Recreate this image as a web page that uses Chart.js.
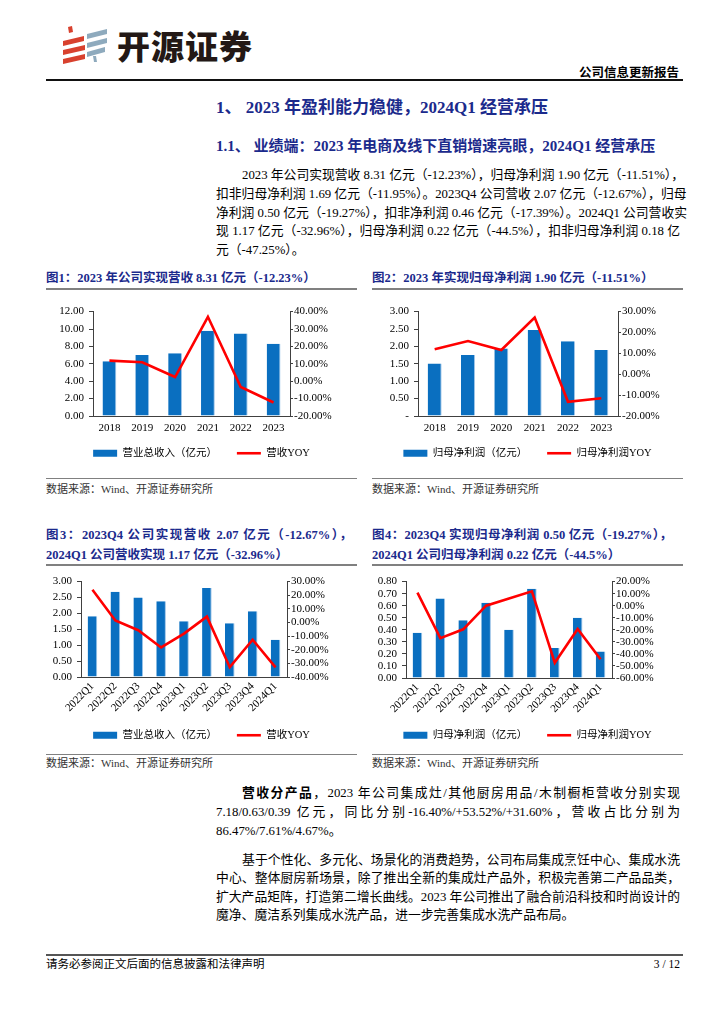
<!DOCTYPE html>
<html lang="zh-CN"><head><meta charset="utf-8">
<script src="https://cdn.jsdelivr.net/npm/chart.js@4.4.1/dist/chart.umd.min.js"></script>
<style>
html,body{margin:0;padding:0;background:#fff;}
body{width:724px;height:1024px;position:relative;overflow:hidden;font-family:"Liberation Serif","Noto Sans CJK SC",serif;color:#000;}
.t{position:absolute;white-space:nowrap;}
.rule{position:absolute;}
.h1{left:216px;top:97px;height:22px;line-height:22px;font-size:17px;font-weight:bold;color:#1b2a8c;}
.h2{left:216px;top:136px;height:20px;line-height:20px;font-size:15px;font-weight:bold;color:#1b2a8c;}
.ln{position:absolute;left:216px;width:464px;height:19px;line-height:19px;font-size:12.8px;white-space:nowrap;text-align:justify;text-align-last:justify;}
.ln.last{text-align-last:left;}
.ind{padding-left:26px;width:438px;}
.fig{position:absolute;height:16px;line-height:16px;font-size:12.5px;font-weight:bold;color:#1b2a8c;white-space:nowrap;}
.src{position:absolute;height:14px;line-height:14px;font-size:11px;color:#333;white-space:nowrap;}
.cv{position:absolute;}
</style></head>
<body>
<!-- logo -->
<svg class="t" style="left:58px;top:24px" width="54" height="42" viewBox="58 24 54 42">
  <g fill="#d8412e">
    <polygon points="68,27 72,26 73,32 69,33"/>
    <polygon points="63,41 84,36 84,41 63,46"/>
    <polygon points="63,50 85,45 85,50 63,55"/>
    <polygon points="63,59 85,54 85,59 63,64"/>
  </g>
  <g fill="#8eaabd">
    <polygon points="87,34 107,29 107,34 87,39"/>
    <polygon points="87,43 107,38 107,43 87,48"/>
    <polygon points="87,52 105,47 105,52 87,57"/>
    <polygon points="93,56 96,56 97,62 94,62"/>
  </g>
</svg>
<div class="t" style="left:117px;top:25px;height:40px;line-height:40px;font-family:'Noto Sans CJK SC';font-weight:900;font-size:33px;color:#231815;letter-spacing:1px;">开源证券</div>
<div class="t" style="right:45px;top:65px;height:16px;line-height:16px;font-size:12.5px;font-weight:bold;">公司信息更新报告</div>
<div class="rule" style="left:46px;top:79px;width:637px;height:1.5px;background:#111;"></div>

<div class="t h1">1、 2023 年盈利能力稳健，2024Q1 经营承压</div>
<div class="t h2">1.1、 业绩端：2023 年电商及线下直销增速亮眼，2024Q1 经营承压</div>

<div class="ln ind" style="top:165.5px">2023 年公司实现营收 8.31 亿元（-12.23%），归母净利润 1.90 亿元（-11.51%），</div>
<div class="ln" style="top:184.5px">扣非归母净利润 1.69 亿元（-11.95%）。2023Q4 公司营收 2.07 亿元（-12.67%），归母</div>
<div class="ln" style="top:203.5px">净利润 0.50 亿元（-19.27%），扣非净利润 0.46 亿元（-17.39%）。2024Q1 公司营收实</div>
<div class="ln" style="top:222px">现 1.17 亿元（-32.96%），归母净利润 0.22 亿元（-44.5%），扣非归母净利润 0.18 亿</div>
<div class="ln last" style="top:240.5px">元（-47.25%）。</div>

<div class="fig" style="left:46px;top:270px">图1：2023 年公司实现营收 8.31 亿元（-12.23%）</div>
<div class="fig" style="left:372px;top:270px">图2：2023 年实现归母净利润 1.90 亿元（-11.51%）</div>
<div class="rule" style="left:46px;top:288px;width:311px;height:1.5px;background:#808080;"></div>
<div class="rule" style="left:372px;top:288px;width:311px;height:1.5px;background:#808080;"></div>

<canvas id="c1" class="cv" style="left:46px;top:300px" width="311" height="172"></canvas>
<canvas id="c2" class="cv" style="left:372px;top:300px" width="311" height="172"></canvas>

<div class="rule" style="left:46px;top:478px;width:311px;height:1px;background:#808080;"></div>
<div class="rule" style="left:372px;top:478px;width:311px;height:1px;background:#808080;"></div>
<div class="src" style="left:46px;top:482px">数据来源：Wind、开源证券研究所</div>
<div class="src" style="left:372px;top:482px">数据来源：Wind、开源证券研究所</div>

<div class="fig" style="left:46px;top:527px;width:306px;text-align:justify;text-align-last:justify;">图3：2023Q4 公司实现营收 2.07 亿元（-12.67%），</div>
<div class="fig" style="left:46px;top:547px">2024Q1 公司营收实现 1.17 亿元（-32.96%）</div>
<div class="fig" style="left:372px;top:527px;width:300px;text-align:justify;text-align-last:justify;">图4：2023Q4 实现归母净利润 0.50 亿元（-19.27%），</div>
<div class="fig" style="left:372px;top:547px">2024Q1 公司归母净利润 0.22 亿元（-44.5%）</div>
<div class="rule" style="left:46px;top:564px;width:311px;height:1.5px;background:#808080;"></div>
<div class="rule" style="left:372px;top:564px;width:311px;height:1.5px;background:#808080;"></div>

<canvas id="c3" class="cv" style="left:46px;top:570px" width="311" height="184"></canvas>
<canvas id="c4" class="cv" style="left:372px;top:570px" width="311" height="184"></canvas>

<div class="rule" style="left:46px;top:754px;width:311px;height:1px;background:#808080;"></div>
<div class="rule" style="left:372px;top:754px;width:311px;height:1px;background:#808080;"></div>
<div class="src" style="left:46px;top:756px">数据来源：Wind、开源证券研究所</div>
<div class="src" style="left:372px;top:756px">数据来源：Wind、开源证券研究所</div>

<div class="ln ind" style="top:783.5px"><b>营收分产品</b>，2023 年公司集成灶/其他厨房用品/木制橱柜营收分别实现</div>
<div class="ln" style="top:802.5px">7.18/0.63/0.39 亿元，同比分别-16.40%/+53.52%/+31.60%，营收占比分别为</div>
<div class="ln last" style="top:821.5px">86.47%/7.61%/4.67%。</div>

<div class="ln ind" style="top:850.5px">基于个性化、多元化、场景化的消费趋势，公司布局集成烹饪中心、集成水洗</div>
<div class="ln" style="top:869px">中心、整体厨房新场景，除了推出全新的集成灶产品外，积极完善第二产品品类，</div>
<div class="ln" style="top:887.5px">扩大产品矩阵，打造第二增长曲线。2023 年公司推出了融合前沿科技和时尚设计的</div>
<div class="ln last" style="top:906px">魔净、魔洁系列集成水洗产品，进一步完善集成水洗产品布局。</div>

<div class="rule" style="left:46px;top:954px;width:637px;height:2px;background:#555;"></div>
<div class="src" style="left:46px;top:957px;font-size:11.5px;color:#000;">请务必参阅正文后面的信息披露和法律声明</div>
<div class="src" style="right:44px;top:957px;font-size:11.5px;color:#000;">3 / 12</div>

<script>
// ---------- data ----------
const years = ['2018', '2019', '2020', '2021', '2022', '2023'];
const revenue = [6.30, 7.02, 7.20, 9.80, 9.48, 8.31];
const revenueYoy = [11.8, 10.9, 2.4, 37.0, -3.3, -12.23];
const netProfit = [1.51, 1.75, 1.94, 2.47, 2.15, 1.90];
const netProfitYoy = [12.0, 15.9, 11.6, 27.2, -13.2, -11.51];

const quarters = ['2022Q1', '2022Q2', '2022Q3', '2022Q4', '2023Q1', '2023Q2', '2023Q3', '2023Q4', '2024Q1'];
const qRevenue = [1.91, 2.68, 2.50, 2.38, 1.75, 2.80, 1.69, 2.07, 1.17];
const qRevenueYoy = [24.0, 1.5, -5.7, -18.3, -8.2, 4.3, -32.8, -12.67, -32.96];
const qNetProfit = [0.375, 0.66, 0.48, 0.625, 0.40, 0.74, 0.25, 0.50, 0.22];
const qNetProfitYoy = [10.8, -26.9, -19.6, 0.0, 6.0, 11.9, -47.4, -19.27, -44.5];

// tick labels (bottom to top)
const c1LeftTicks = ['0.00', '2.00', '4.00', '6.00', '8.00', '10.00', '12.00'];
const c1RightTicks = ['-20.00%', '-10.00%', '0.00%', '10.00%', '20.00%', '30.00%', '40.00%'];
const c2LeftTicks = ['-', '0.50', '1.00', '1.50', '2.00', '2.50', '3.00'];
const c2RightTicks = ['-20.00%', '-10.00%', '0.00%', '10.00%', '20.00%', '30.00%'];
const c3LeftTicks = ['0.00', '0.50', '1.00', '1.50', '2.00', '2.50', '3.00'];
const c3RightTicks = ['-40.00%', '-30.00%', '-20.00%', '-10.00%', '0.00%', '10.00%', '20.00%', '30.00%'];
const c4LeftTicks = ['0.00', '0.10', '0.20', '0.30', '0.40', '0.50', '0.60', '0.70', '0.80'];
const c4RightTicks = ['-60.00%', '-50.00%', '-40.00%', '-30.00%', '-20.00%', '-10.00%', '0.00%', '10.00%', '20.00%'];

const revLabel = '营业总收入（亿元）';
const revYoyLabel = '营收YOY';
const npLabel = '归母净利润（亿元）';
const npYoyLabel = '归母净利润YOY';

// ---------- drawing ----------
const FONT = '"Liberation Serif", "Noto Sans CJK SC", serif';
const AXIS = '#404040';

function rangeOf(labels) {
  const nums = labels.map(s => s === '-' ? 0 : parseFloat(s));
  return { min: nums[0], max: nums[nums.length - 1], step: nums[1] - nums[0], labels };
}
function labelFor(r) {
  return v => r.labels[Math.round((v - r.min) / r.step)];
}

function makeChart(id, o) {
  const L = rangeOf(o.leftTicks), R = rangeOf(o.rightTicks);
  new Chart(document.getElementById(id), {
    type: 'bar',
    data: {
      labels: o.labels,
      datasets: [
        { type: 'line', label: o.lineLabel, data: o.lineData, yAxisID: 'y1',
          borderColor: '#ff0000', backgroundColor: '#ff0000', borderWidth: 2.6,
          pointRadius: 0, tension: 0 },
        { type: 'bar', label: o.barLabel, data: o.barData, yAxisID: 'y',
          backgroundColor: '#0a6fc0', borderColor: '#9cc4e8',
          borderWidth: { top: 0, right: 1, bottom: 0, left: 0 },
          barPercentage: 0.42, categoryPercentage: 1 }
      ]
    },
    plugins: [{
      id: 'legendBox',
      beforeLayout(chart) {
        const lg = chart.legend;
        if (lg && !lg._patched) {
          const fit = lg.fit;
          lg.fit = function () { fit.call(this); this.height = o.legendH; };
          lg._patched = true;
        }
      },
      afterLayout(chart) {
        const lg = chart.legend;
        const h = lg.bottom - lg.top;
        lg.top = chart.chartArea.bottom + o.legendOff;
        lg.bottom = lg.top + h;
      }
    }],
    options: {
      responsive: false, animation: false, devicePixelRatio: 1,
      layout: { padding: { top: o.padTop, bottom: 0, left: 0, right: 0 } },
      plugins: {
        tooltip: { enabled: false },
        legend: {
          position: 'bottom',
          labels: {
            usePointStyle: true, pointStyleWidth: 24, boxHeight: 7,
            padding: 20, color: '#000',
            font: { family: FONT, size: 10.5 },
            generateLabels(chart) {
              const items = Chart.defaults.plugins.legend.labels.generateLabels(chart);
              items.forEach(it => {
                if (it.datasetIndex === 0) { it.pointStyle = 'line'; it.lineWidth = 2.6; }
                else { it.pointStyle = 'rect'; it.lineWidth = 0; }
              });
              return items.reverse();
            }
          }
        }
      },
      scales: {
        x: {
          grid: { display: false, drawTicks: false },
          border: { display: true, color: AXIS, width: 1 },
          ticks: { color: '#000', font: { family: FONT, size: 11 }, autoSkip: false,
                   minRotation: o.rot, maxRotation: o.rot, padding: o.xPad },
          afterFit(s) { s.height = o.xH; }
        },
        y: {
          position: 'left', min: L.min, max: L.max,
          grid: { drawOnChartArea: false, drawTicks: true, tickLength: 4, color: AXIS },
          border: { display: true, color: AXIS, width: 1 },
          ticks: { stepSize: L.step, autoSkip: false, color: '#000', font: { family: FONT, size: 11 }, padding: 5,
                   callback: labelFor(L) },
          afterFit(s) { s.width = o.leftW; }
        },
        y1: {
          position: 'right', min: R.min, max: R.max,
          grid: { drawOnChartArea: false, drawTicks: true, tickLength: 3, color: AXIS },
          border: { display: true, color: AXIS, width: 1 },
          ticks: { stepSize: R.step, autoSkip: false, color: '#000', font: { family: FONT, size: 11 }, padding: 1,
                   callback: labelFor(R) },
          afterFit(s) { s.width = o.rightW; }
        }
      }
    }
  });
}

// chart area: top 311 / bottom 416 (charts 1-2); top 581 / bottom 677 (charts 3-4)
makeChart('c1', { labels: years, barData: revenue, lineData: revenueYoy,
  barLabel: revLabel, lineLabel: revYoyLabel, leftTicks: c1LeftTicks, rightTicks: c1RightTicks,
  leftW: 47, rightW: 67, padTop: 11, xH: 24, legendH: 32, legendOff: 12, xPad: 6, rot: 0 });
makeChart('c2', { labels: years, barData: netProfit, lineData: netProfitYoy,
  barLabel: npLabel, lineLabel: npYoyLabel, leftTicks: c2LeftTicks, rightTicks: c2RightTicks,
  leftW: 46, rightW: 65, padTop: 11, xH: 24, legendH: 32, legendOff: 12, xPad: 6, rot: 0 });
makeChart('c3', { labels: quarters, barData: qRevenue, lineData: qRevenueYoy,
  barLabel: revLabel, lineLabel: revYoyLabel, leftTicks: c3LeftTicks, rightTicks: c3RightTicks,
  leftW: 35, rightW: 70, padTop: 11, xH: 44, legendH: 33, legendOff: 33, xPad: 3, rot: 45 });
makeChart('c4', { labels: quarters, barData: qNetProfit, lineData: qNetProfitYoy,
  barLabel: npLabel, lineLabel: npYoyLabel, leftTicks: c4LeftTicks, rightTicks: c4RightTicks,
  leftW: 34, rightW: 71, padTop: 9, xH: 44, legendH: 32, legendOff: 32, xPad: 3, rot: 45 });
</script>
</body></html>
